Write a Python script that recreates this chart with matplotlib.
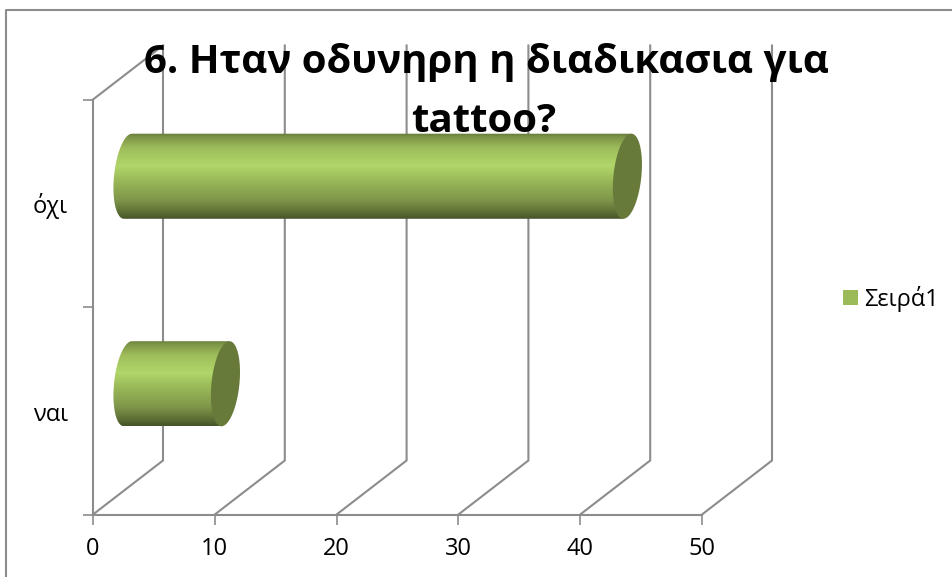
import numpy as np
import matplotlib
matplotlib.use('Agg')
import matplotlib.pyplot as plt
from matplotlib.colors import LinearSegmentedColormap
from matplotlib.patches import Polygon, Rectangle
from matplotlib.transforms import ScaledTranslation

plt.rcParams['font.family'] = ['Open Sans', 'DejaVu Sans']

categories = ['ναι', 'όχι']
values = [8, 41]
xticks = [0, 10, 20, 30, 40, 50]
title = ['6. Ηταν οδυνηρη η διαδικασια για', 'tattoo?']
series_name = 'Σειρά1'

W, H = 952, 577
GREY = '#8c8c8c'

fig = plt.figure(figsize=(W / 100, H / 100), dpi=100)
# front plane of the fake 3d box: 0..50 -> x 93..702, 0..2 -> y 514..99
ax = fig.add_axes([93 / W, 1 - 514.5 / H, 609 / W, 415 / H])
ax.set_xlim(0, 50)
ax.set_ylim(0, 2)
ax.patch.set_alpha(0)

# depth of the box in data units
dx = 70 / 12.18
dy = 54 / 207.5

for s in ['top', 'right']:
    ax.spines[s].set_visible(False)
for s in ['left', 'bottom']:
    ax.spines[s].set_color(GREY)
    ax.spines[s].set_linewidth(1.5)

ax.set_xticks(xticks)
ax.set_yticks([0, 1, 2])
ax.set_yticklabels([])
ax.tick_params(axis='x', color=GREY, width=1.2, length=7, labelsize=17, pad=9, labelcolor='black')
ax.tick_params(axis='y', which='major', color=GREY, width=1.2, length=7)

# category labels sit a bit under the middle of their band
label_shift = ScaledTranslation(-25 / 100, -10 / 100, fig.dpi_scale_trans)
for i, name in enumerate(categories):
    ax.text(0, i + 0.5, name, transform=ax.get_yaxis_transform() + label_shift,
            ha='right', va='baseline', fontsize=17, color='black', clip_on=False)

# back wall gridlines and the floor lines going back
for t in xticks:
    ax.plot([t, t + dx, t + dx], [0, dy, 2 + dy], color=GREY, lw=1.5, clip_on=False, zorder=1, solid_joinstyle='miter')
ax.plot([0, dx], [2, 2 + dy], color=GREY, lw=1.5, clip_on=False, zorder=1)

# vertical shading of the cylinders
stops = [(0.0, '#66793a'), (0.05, '#7f9648'), (0.18, '#9fbe5c'), (0.38, '#b1d66a'),
         (0.55, '#9ab958'), (0.78, '#7f964a'), (0.93, '#5a6c33'), (1.0, '#46542a')]
cyl = LinearSegmentedColormap.from_list('cyl', stops)
grad = np.linspace(0, 1, 256).reshape(-1, 1)

bar_h = 0.41
cap_a = 14 / 12.18   # half width of the end ellipse in value units
cap_s = 4 / 12.18    # lean of the ellipse
t = np.linspace(0, 2 * np.pi, 120)


def end_ellipse(xc, yc, tt):
    # sheared ellipse, top leans right
    return np.column_stack([xc + cap_a * np.cos(tt) + cap_s * np.sin(tt), yc + bar_h / 2 * np.sin(tt)])


for i, v in enumerate(values):
    yc = i + 0.5 + dy / 2
    x0 = dx / 2
    x1 = x0 + v
    # left half of the start ellipse, then across to the far end
    left = end_ellipse(x0, yc, np.linspace(np.pi / 2, 3 * np.pi / 2, 60))
    right = end_ellipse(x1, yc, np.array([3 * np.pi / 2, np.pi / 2]))
    body = Polygon(np.vstack([left, right]), closed=True, fc='none', ec='none', zorder=3)
    ax.add_patch(body)
    im = ax.imshow(grad, cmap=cyl, aspect='auto', extent=(x0 - 3, x1 + 3, yc - bar_h / 2, yc + bar_h / 2),
                   origin='upper', zorder=3)
    im.set_clip_path(body)
    ax.add_patch(Polygon(end_ellipse(x1, yc, t), closed=True, fc='#677a3a', ec='none', zorder=4, clip_on=False))

ax.set_xlim(0, 50)
ax.set_ylim(0, 2)

# frame round the chart area, runs off the right and bottom of the image
fig.add_artist(plt.Line2D([5.5 / W, 5.5 / W, 1], [0, 1 - 9.5 / H, 1 - 9.5 / H], color=GREY, lw=1.5))

fig.text(486.5 / W, 1 - 63 / H, title[0], ha='center', va='center', fontsize=29, fontweight='bold', color='black', zorder=10)
fig.text(484 / W, 1 - 121 / H, title[1], ha='center', va='center', fontsize=29, fontweight='bold', color='black', zorder=10)

# legend
fig.add_artist(Rectangle((843 / W, 1 - 305 / H), 15 / W, 15 / H, transform=fig.transFigure, fc='#9bbb59', ec='none'))
fig.text(864 / W, 1 - 299 / H, series_name, ha='left', va='center', fontsize=17, color='black')

fig.savefig('out.png', dpi=100)
